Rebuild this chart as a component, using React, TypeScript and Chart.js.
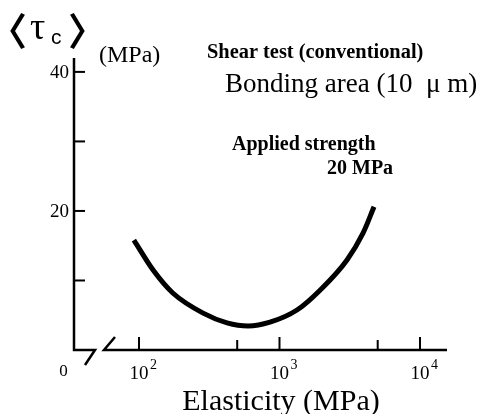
import React, { useEffect, useRef } from 'react';
import { Chart, registerables } from 'chart.js';

Chart.register(...registerables);

// ---- data ----
const elasticityMPa = [92, 126, 174, 286, 423, 597, 856, 1332, 1943, 3024, 3930, 4707];
const shearStrengthMPa = [15.8, 11.5, 8.2, 5.3, 3.9, 3.45, 4.0, 5.75, 8.6, 12.95, 16.8, 20.6];

const yTickValues = [10, 20, 30, 40];
const yTickLabels = ['', '20', '', '40'];
const xMajorTickValues = [100, 1000, 10000];
const xTickBase = ['10', '10', '10'];
const xTickExponents = ['2', '3', '4'];
const xMinorTickValues = [500, 5000];

const X_MIN = 34.47;
const X_MAX = 15565;
const Y_MIN = 0;
const Y_MAX = 42;

const SERIF = "'Liberation Serif', 'Times New Roman', serif";
const CJK = "'Noto Sans CJK JP', 'Noto Sans CJK SC', sans-serif";
const INK = '#000000';

function inkText(ctx: CanvasRenderingContext2D, text: string, font: string, left: number, top: number) {
  ctx.font = font;
  ctx.textAlign = 'left';
  ctx.textBaseline = 'alphabetic';
  const m = ctx.measureText(text);
  ctx.fillText(text, left + m.actualBoundingBoxLeft, top + m.actualBoundingBoxAscent);
  return m;
}

const decorPlugin = {
  id: 'decor',
  afterDraw(chart: any) {
    const { ctx, chartArea: a, scales } = chart;
    const xs = scales.x;
    const ys = scales.y;
    ctx.save();
    ctx.strokeStyle = INK;
    ctx.fillStyle = INK;
    ctx.lineWidth = 2.5;
    ctx.lineCap = 'butt';
    ctx.lineJoin = 'miter';

    // y axis + left piece of broken x axis
    ctx.beginPath();
    ctx.moveTo(a.left, a.top);
    ctx.lineTo(a.left, a.bottom);
    ctx.lineTo(a.left + 21, a.bottom);
    ctx.lineTo(a.left + 11, a.bottom + 15);
    ctx.stroke();

    // right piece of broken x axis
    ctx.beginPath();
    ctx.moveTo(a.left + 41, a.bottom - 13);
    ctx.lineTo(a.left + 30, a.bottom);
    ctx.lineTo(a.right, a.bottom);
    ctx.stroke();

    // y ticks (inward) and labels
    ctx.lineWidth = 2;
    yTickValues.forEach((v, i) => {
      const y = ys.getPixelForValue(v);
      ctx.beginPath();
      ctx.moveTo(a.left, y);
      ctx.lineTo(a.left + 11, y);
      ctx.stroke();
      if (yTickLabels[i]) {
        ctx.font = `19px ${SERIF}`;
        ctx.textAlign = 'right';
        ctx.textBaseline = 'middle';
        ctx.fillText(yTickLabels[i], a.left - 5, y + 1);
      }
    });

    // origin label
    ctx.font = `17px ${SERIF}`;
    ctx.textAlign = 'center';
    ctx.textBaseline = 'alphabetic';
    ctx.fillText('0', a.left - 10.5, a.bottom + 26);

    // x ticks (inward)
    xMajorTickValues.forEach((v, i) => {
      const x = xs.getPixelForValue(v);
      ctx.beginPath();
      ctx.moveTo(x, a.bottom);
      ctx.lineTo(x, a.bottom - 13);
      ctx.stroke();
      ctx.font = `19px ${SERIF}`;
      ctx.textAlign = 'center';
      ctx.textBaseline = 'alphabetic';
      ctx.fillText(xTickBase[i], x, a.bottom + 29);
      const w = ctx.measureText(xTickBase[i]).width;
      ctx.font = `14px ${SERIF}`;
      ctx.textAlign = 'left';
      ctx.fillText(xTickExponents[i], x + w / 2 + 1.5, a.bottom + 19);
    });
    xMinorTickValues.forEach((v) => {
      const x = xs.getPixelForValue(v);
      ctx.beginPath();
      ctx.moveTo(x, a.bottom);
      ctx.lineTo(x, a.bottom - 10);
      ctx.stroke();
    });

    // y axis symbol <tau_c>
    inkText(ctx, '〈', `700 38px ${CJK}`, 10, 13);
    inkText(ctx, 'τ', `38px ${SERIF}`, 30, 21);
    inkText(ctx, 'c', `21px 'Liberation Sans', Arial, sans-serif`, 51, 33);
    inkText(ctx, '〉', `700 38px ${CJK}`, 70, 13);
    inkText(ctx, '(MPa)', `24px ${SERIF}`, 100, 45);

    // annotations
    inkText(ctx, 'Shear test (conventional)', `bold 20.4px ${SERIF}`, 208, 43);
    inkText(ctx, 'Bonding area (10  μ m)', `27px ${SERIF}`, 225, 72);
    inkText(ctx, 'Applied strength', `bold 20px ${SERIF}`, 232, 135);
    inkText(ctx, '20 MPa', `bold 20px ${SERIF}`, 327, 160);

    // x axis title
    ctx.font = `30px ${SERIF}`;
    ctx.textAlign = 'center';
    ctx.textBaseline = 'alphabetic';
    ctx.fillText('Elasticity (MPa)', 281, 410);

    ctx.restore();
  },
};

export default function App() {
  const canvasRef = useRef<HTMLCanvasElement | null>(null);

  useEffect(() => {
    if (!canvasRef.current) return;
    const points = elasticityMPa.map((x, i) => ({ x, y: shearStrengthMPa[i] }));
    const chart = new Chart(canvasRef.current, {
      type: 'line',
      data: {
        datasets: [
          {
            data: points,
            borderColor: INK,
            borderWidth: 5,
            pointRadius: 0,
            fill: false,
            cubicInterpolationMode: 'monotone',
            borderCapStyle: 'butt',
          },
        ],
      },
      options: {
        animation: false,
        responsive: false,
        devicePixelRatio: 1,
        parsing: false as any,
        layout: { padding: { left: 74, top: 58, right: 31, bottom: 64 } },
        plugins: { legend: { display: false }, tooltip: { enabled: false }, title: { display: false } },
        scales: {
          x: { type: 'logarithmic', min: X_MIN, max: X_MAX, display: false },
          y: { type: 'linear', min: Y_MIN, max: Y_MAX, display: false },
        },
      },
      plugins: [decorPlugin],
    });
    return () => chart.destroy();
  }, []);

  return (
    <div style={{ position: 'fixed', left: 0, top: 0, width: 478, height: 414, background: '#fff' }}>
      <canvas ref={canvasRef} width={478} height={414} style={{ display: 'block' }} />
    </div>
  );
}
